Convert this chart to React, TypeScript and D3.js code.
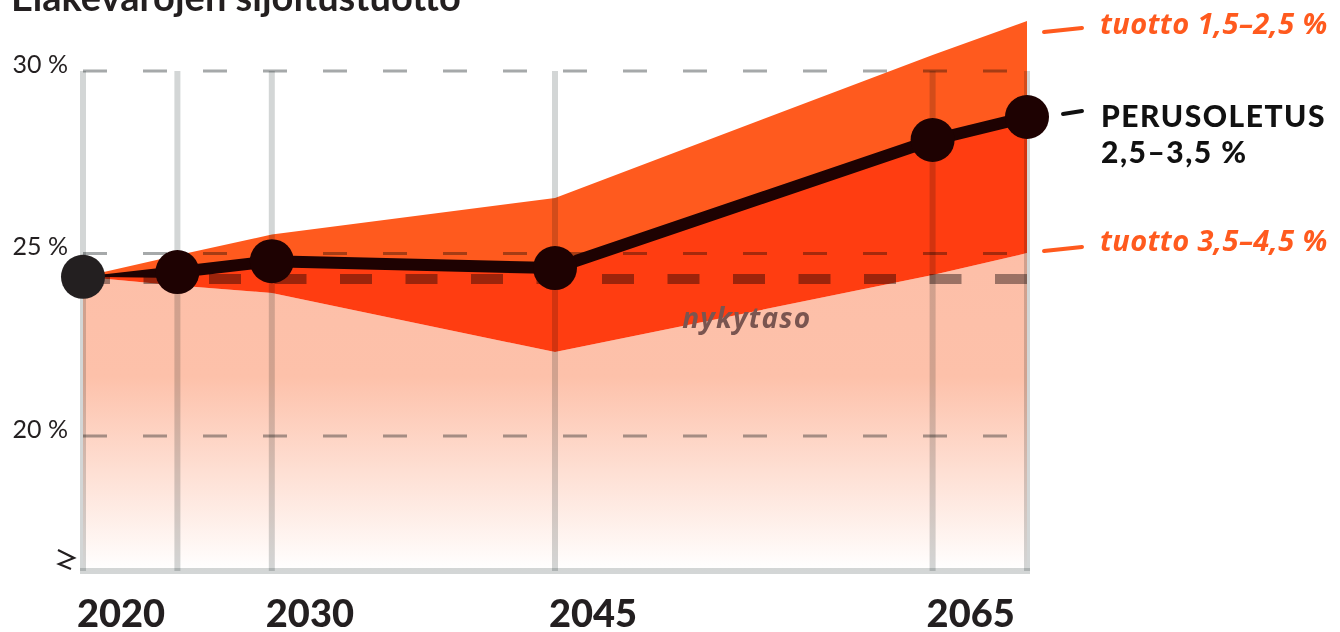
import React from "react";
import * as d3 from "d3";

const years = [2020, 2025, 2030, 2045, 2065, 2070];
const baseline = [24.36, 24.49, 24.79, 24.6, 28.11, 28.74];
const upperEdge = [24.36, 24.95, 25.52, 26.52, 30.44, 31.37];
const lowerEdge = [24.36, 24.12, 23.92, 22.3, 24.41, 25.01];
const currentLevel = 24.3;
const yTicks = [30, 25, 20];
const yTickLabels = ["30 %", "25 %", "20 %"];
const xLabelYears = [2020, 2030, 2045, 2065];
const title = "Eläkevarojen sijoitustuotto";
const legendLabels = ["tuotto 1,5–2,5 %", "PERUSOLETUS", "2,5–3,5 %", "tuotto 3,5–4,5 %"];
const currentLabel = "nykytaso";

const W = 1340;
const H = 632;
const ORANGE = "#FF5A1E";
const RED = "#FF3D11";
const DARK = "#1E0202";
const FONT = "Lato, 'Open Sans', sans-serif";
const WIDE = "'Open Sans', Lato, sans-serif";

export default function App() {
  const x = d3.scaleLinear().domain([2020, 2070]).range([83, 1027]);
  const y = d3.scaleLinear().domain([16.3, 30]).range([571, 71]);
  const yBottom = y(16.3);

  const idx = years.map((_, i) => i);
  const upperArea = d3
    .area<number>()
    .x((i) => x(years[i]))
    .y0((i) => y(baseline[i]))
    .y1((i) => y(upperEdge[i]));
  const lowerArea = d3
    .area<number>()
    .x((i) => x(years[i]))
    .y0((i) => y(lowerEdge[i]))
    .y1((i) => y(baseline[i]));
  const pinkArea = d3
    .area<number>()
    .x((i) => x(years[i]))
    .y0(() => yBottom)
    .y1((i) => y(lowerEdge[i]));
  const line = d3
    .line<number>()
    .x((i) => x(years[i]))
    .y((i) => y(baseline[i]));

  const x0 = x(years[0]);
  const y0 = y(baseline[0]);
  const x1 = x(years[1]);
  const y1 = y(baseline[1]);
  const xEnd = x(years[years.length - 1]);

  const blend: React.CSSProperties = { mixBlendMode: "multiply" };

  return (
    <svg
      width={W}
      height={H}
      viewBox={`0 0 ${W} ${H}`}
      style={{ position: "absolute", left: 0, top: 0, background: "#fff" }}
    >
      <defs>
        <linearGradient id="pinkGrad" gradientUnits="userSpaceOnUse" x1="0" y1={y(26)} x2="0" y2={yBottom}>
          <stop offset="0" stopColor="#FDBEA7" />
          <stop offset="0.45" stopColor="#FDC1AA" />
          <stop offset="1" stopColor="#FFFFFF" />
        </linearGradient>
      </defs>

      <text x={11} y={11} fontFamily={FONT} fontWeight={700} fontSize={38} fill="#231f20">
        {title}
      </text>

      <path d={pinkArea(idx) || ""} fill="url(#pinkGrad)" />
      <path d={upperArea(idx) || ""} fill={ORANGE} />
      <path d={lowerArea(idx) || ""} fill={RED} />

      {/* vertical gridlines */}
      {years.map((yr) => (
        <line
          key={yr}
          x1={x(yr)}
          x2={x(yr)}
          y1={y(30)}
          y2={yBottom}
          stroke="#D3D6D6"
          strokeWidth={6}
          style={blend}
        />
      ))}
      <line x1={x0 - 3} x2={xEnd + 3} y1={yBottom} y2={yBottom} stroke="#D3D6D6" strokeWidth={6} style={blend} />

      {/* horizontal dashed gridlines */}
      {yTicks.map((t) => (
        <line
          key={t}
          x1={x0}
          x2={xEnd}
          y1={y(t)}
          y2={y(t)}
          stroke="#A6A9AA"
          strokeWidth={3}
          strokeDasharray="24 36"
          style={blend}
        />
      ))}

      {/* current level */}
      <line
        x1={x0 - 5}
        x2={xEnd}
        y1={y(currentLevel)}
        y2={y(currentLevel)}
        stroke="#9C9797"
        strokeWidth={10}
        strokeDasharray="32 33.5"
        style={blend}
      />
      <text
        x={x(2052) - 5}
        y={y(currentLevel) + 49}
        fontFamily={WIDE}
        fontStyle="italic"
        fontWeight={700}
        fontSize={28}
        letterSpacing={1.2}
        fill="#7A5550"
      >
        {currentLabel}
      </text>

      {/* y tick labels */}
      {yTicks.map((t, i) => (
        <text
          key={t}
          x={68}
          y={y(t) + 2}
          textAnchor="end"
          fontFamily={FONT}
          fontWeight={400}
          fontSize={25}
          fill="#231f20"
        >
          {yTickLabels[i]}
        </text>
      ))}

      {/* axis break symbol */}
      <path
        d={`M ${x0 - 25} ${yBottom - 21} L ${x0 - 9} ${yBottom - 13} L ${x0 - 24} ${yBottom - 7} L ${x0 - 12} ${yBottom - 2}`}
        fill="none"
        stroke="#231f20"
        strokeWidth={2.2}
        strokeLinejoin="miter"
      />

      {/* baseline line */}
      <polygon points={`${x0},${y0} ${x1},${y1 - 6} ${x1},${y1 + 6}`} fill={DARK} />
      <path d={line(idx.slice(1)) || ""} fill="none" stroke={DARK} strokeWidth={12} strokeLinejoin="round" />
      {idx.map((i) => (
        <circle key={i} cx={x(years[i])} cy={y(baseline[i])} r={22} fill={i === 0 ? "#231F20" : DARK} />
      ))}

      {/* x labels */}
      {xLabelYears.map((yr) => (
        <text
          key={yr}
          x={x(yr) - 6}
          y={627}
          fontFamily={FONT}
          fontWeight={900}
          fontSize={38}
          fill="#231f20"
        >
          {yr}
        </text>
      ))}

      {/* legend */}
      <line x1={1044} y1={32} x2={1082} y2={28} stroke={ORANGE} strokeWidth={4} strokeLinecap="round" />
      <text x={1100} y={34} fontFamily={WIDE} fontStyle="italic" fontWeight={700} fontSize={29} letterSpacing={0.4} fill={ORANGE}>
        {legendLabels[0]}
      </text>

      <line x1={1063} y1={114} x2={1082} y2={111} stroke="#111" strokeWidth={4} strokeLinecap="round" />
      <text x={1101} y={127} fontFamily={FONT} fontWeight={900} fontSize={30} letterSpacing={1.5} fill="#111">
        {legendLabels[1]}
      </text>
      <text x={1101} y={163} fontFamily={FONT} fontWeight={900} fontSize={30} letterSpacing={1.5} fill="#111">
        {legendLabels[2]}
      </text>

      <line x1={1044} y1={251} x2={1082} y2={247} stroke={ORANGE} strokeWidth={4} strokeLinecap="round" />
      <text x={1100} y={251} fontFamily={WIDE} fontStyle="italic" fontWeight={700} fontSize={29} letterSpacing={0.4} fill={ORANGE}>
        {legendLabels[3]}
      </text>
    </svg>
  );
}
